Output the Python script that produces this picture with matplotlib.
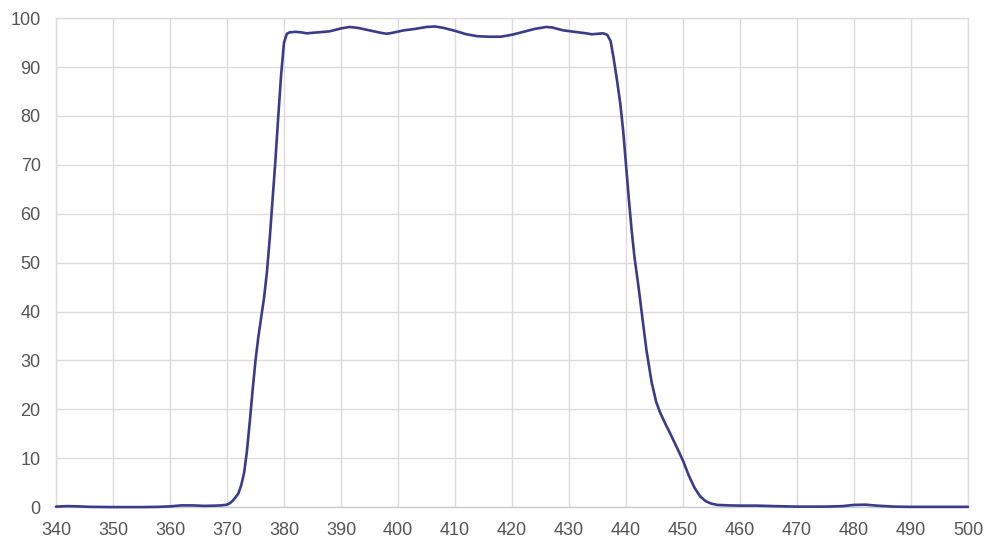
import numpy as np
import matplotlib
matplotlib.use("Agg")
import matplotlib.pyplot as plt

# Transmission curve (wavelength nm, transmission %)
wavelength = [340, 342, 344, 346, 350, 355, 358, 360, 362, 364, 366, 368, 369,
              370, 370.5, 371, 371.5, 372, 372.5, 373, 373.5, 374, 374.5, 375,
              375.5, 376, 376.5, 377, 377.5, 378, 378.5, 379, 379.5, 380, 380.5,
              381, 382, 383, 384, 386, 388, 390, 391.5, 393, 395, 397, 398, 399,
              401, 403, 405, 406.5, 408, 410, 412, 414, 416, 418, 420, 422, 424,
              426, 427, 429, 431, 433, 434, 435, 436, 436.7, 437.3, 437.8, 438.4,
              439, 439.5, 440, 440.5, 441, 441.5, 442.2, 443, 443.6, 444.5, 445.3, 446,
              447, 447.7, 449, 450, 451, 452, 453, 454, 455, 456, 458, 460, 463,
              466, 470, 475, 478, 480, 482, 484, 487, 490, 495, 500]
transmission = [0.1, 0.2, 0.15, 0.05, 0.0, 0.0, 0.05, 0.15, 0.35, 0.35, 0.25, 0.3, 0.35,
                0.5, 0.8, 1.3, 2.0, 2.8, 4.5, 7.0, 11.5, 17.5, 24.0, 30.0,
                34.8, 38.8, 42.8, 48.0, 55.0, 63.0, 71.0, 80.0, 88.5, 95.0, 96.8,
                97.1, 97.2, 97.1, 96.9, 97.1, 97.3, 97.9, 98.2, 98.0, 97.5, 97.0, 96.8, 97.0,
                97.5, 97.8, 98.2, 98.3, 98.0, 97.4, 96.7, 96.3, 96.2, 96.2, 96.6, 97.2, 97.8,
                98.2, 98.1, 97.5, 97.2, 96.9, 96.7, 96.8, 96.9, 96.6, 95.3, 92.0, 87.5,
                82.5, 77.0, 70.0, 63.0, 56.5, 51.0, 45.0, 37.5, 32.0, 25.5, 21.5, 19.3,
                16.8, 15.2, 12.0, 9.5, 6.5, 4.0, 2.2, 1.2, 0.7, 0.45, 0.35, 0.3, 0.3,
                0.2, 0.1, 0.1, 0.2, 0.45, 0.5, 0.3, 0.1, 0.05, 0.05, 0.05]

x_ticks = list(range(340, 501, 10))
y_ticks = list(range(0, 101, 10))

plt.rcParams['font.family'] = ['Liberation Sans', 'DejaVu Sans']

fig = plt.figure(figsize=(10, 5.5), dpi=100)
ax = fig.add_axes([0.056, 0.078, 0.912, 0.889])

ax.plot(wavelength, transmission, color='#3b3b8c', linewidth=1.9,
        solid_joinstyle='round', solid_capstyle='round', clip_on=False, zorder=5)

ax.set_xlim(340, 500)
ax.set_ylim(0, 100)
ax.set_xticks(x_ticks)
ax.set_yticks(y_ticks)
ax.grid(True, color='#dcdcdc', linewidth=1)
ax.set_axisbelow(True)
for side in ['top', 'right', 'left', 'bottom']:
    ax.spines[side].set_color('#dcdcdc')
    ax.spines[side].set_linewidth(1)
ax.spines['bottom'].set_color('#cccccc')
ax.tick_params(length=0, labelsize=13, labelcolor='#555555')
ax.tick_params(axis='y', pad=11)
ax.tick_params(axis='x', pad=11)

plt.savefig('out.png', dpi=100)
plt.close()
